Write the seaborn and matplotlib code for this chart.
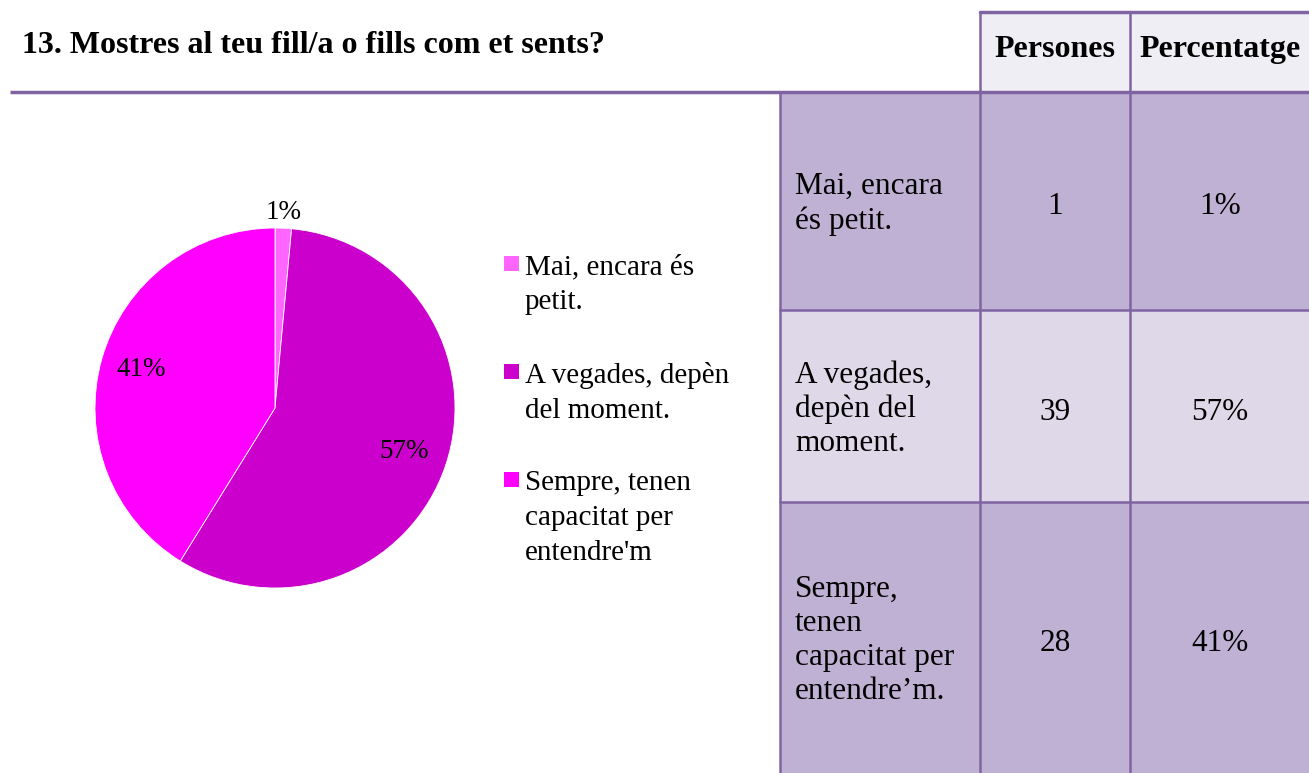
import numpy as np
import matplotlib
matplotlib.use("Agg")
import matplotlib.pyplot as plt
import seaborn as sns
from matplotlib.patches import Rectangle

# data
title = "13. Mostres al teu fill/a o fills com et sents?"
legend_labels = ["Mai, encara és\npetit.",
                 "A vegades, depèn\ndel moment.",
                 "Sempre, tenen\ncapacitat per\nentendre'm"]
table_labels = ["Mai, encara\nés petit.",
                "A vegades,\ndepèn del\nmoment.",
                "Sempre,\ntenen\ncapacitat per\nentendre\u2019m."]
headers = ["Persones", "Percentatge"]
persons = [1, 39, 28]
slice_colors = ["#FF66FF", "#CC00CC", "#FF00FF"]

W, H = 1309, 773
LINE = "#8064A2"
DARK = "#BFB1D3"
LIGHT = "#DFD8E8"
HEAD = "#F0EEF5"


def px(x0, y0, w, h):
    ''' pixel box (top-left origin) -> figure fraction '''
    return [x0 / W, 1 - (y0 + h) / H, w / W, h / H]


def main():
    sns.set_theme(style="white")
    plt.rcParams['font.family'] = ['Liberation Serif', 'DejaVu Serif']
    plt.rcParams['text.color'] = 'black'

    total = sum(persons)
    pct_labels = [f"{round(100 * p / total)}%" for p in persons]

    fig = plt.figure(figsize=(W / 100, H / 100), dpi=100)
    bg = fig.add_axes([0, 0, 1, 1])
    bg.set_xlim(0, W)
    bg.set_ylim(H, 0)
    bg.axis('off')

    # title and rule
    bg.text(22, 53, title, fontsize=23, fontweight='bold', va='baseline', ha='left')
    bg.plot([10, W], [92, 92], color=LINE, lw=2.5, solid_capstyle='butt')

    # table
    rows = [92, 310, 502, H]
    bg.add_patch(Rectangle((980, 12), W - 980, 80, fc=HEAD, ec='none'))
    for i in range(3):
        fc = LIGHT if i == 1 else DARK
        bg.add_patch(Rectangle((780, rows[i]), W - 780, rows[i + 1] - rows[i],
                               fc=fc, ec='none'))
    bg.plot([980, W], [12, 12], color=LINE, lw=2.5)
    for x in (980, 1130):
        bg.plot([x, x], [12, H], color=LINE, lw=1.8)
    bg.plot([780, 780], [92, H], color=LINE, lw=1.8)
    for y in (310, 502):
        bg.plot([780, W], [y, y], color=LINE, lw=1.8)

    for x, h in zip((1055, 1220), headers):
        bg.text(x, 57, h, fontsize=23, fontweight='bold', ha='center', va='baseline')
    for i in range(3):
        yc = (rows[i] + rows[i + 1]) / 2
        bg.text(795, yc + 3, table_labels[i], fontsize=22.5, ha='left', va='center',
                linespacing=1.22)
        bg.text(1055, yc + 6, str(persons[i]), fontsize=22.5, ha='center', va='center')
        bg.text(1220, yc + 6, pct_labels[i], fontsize=22.5, ha='center', va='center')

    # legend
    leg_y = [256, 364, 472]
    for c, lab, y in zip(slice_colors, legend_labels, leg_y):
        bg.add_patch(Rectangle((504, y), 15, 15, fc=c, ec='none'))
        bg.text(525, y - 2, lab, fontsize=21, ha='left', va='top',
                linespacing=1.45)

    # pie
    ax = fig.add_axes(px(95, 228, 360, 360))
    wedges, _ = ax.pie(persons, colors=slice_colors, startangle=90,
                       counterclock=False,
                       wedgeprops=dict(linewidth=0.6, edgecolor='white'))
    ax.set_xlim(-1, 1)
    ax.set_ylim(-1, 1)
    ax.axis('off')
    dists = [1.09, 0.755, 0.775]
    for w, lab, d in zip(wedges, pct_labels, dists):
        a = np.deg2rad((w.theta1 + w.theta2) / 2)
        ax.text(d * np.cos(a), d * np.sin(a), lab, fontsize=19.5,
                ha='center', va='center')

    fig.savefig("out.png", dpi=100)


if __name__ == "__main__":
    main()
